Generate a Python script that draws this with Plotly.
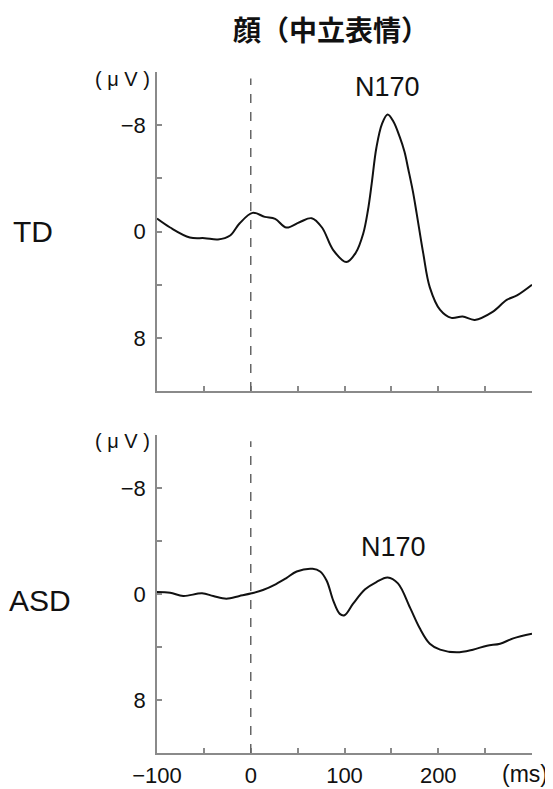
import plotly.graph_objects as go

# Browser body adds an 8px margin; lay out in reference pixel coordinates.
OFF = 8
W, H = 553 - OFF, 789 - OFF

title_text = "顔（中立表情）"
group_labels = ["TD", "ASD"]
peak_label = "N170"
x_tick_vals = [-100, -50, 0, 50, 100, 150, 200, 250, 300]
x_tick_text = ["−100", "", "0", "", "100", "", "200", "", ""]
y_tick_vals = [-12, -8, -4, 0, 4, 8]
y_tick_text = ["", "−8", "", "0", "", "8"]
y_unit = "( μ V )"
x_unit = "(ms)"

td_time = [-100, -86, -65, -49, -35, -22, -12, 2, 15, 26, 38, 52, 65, 76, 88, 102,
           112, 120, 125, 129, 134, 140, 146, 152, 159, 164, 168, 173, 177, 184,
           191, 202, 214, 226, 239, 258, 273, 284, 300]
td_uv = [-0.97, -0.3, 0.45, 0.5, 0.6, 0.3, -0.6, -1.4, -1.1, -0.95, -0.3, -0.7, -1.0,
         -0.3, 1.4, 2.3, 1.6, 0.15, -1.6, -3.6, -6.3, -8.1, -8.8, -8.3, -7.1, -6.0,
         -4.7, -3.0, -1.35, 1.65, 4.2, 5.9, 6.5, 6.4, 6.65, 6.05, 5.15, 4.8, 4.0]

asd_time = [-100, -86, -72, -52, -40, -26, -12, 1, 13, 27, 38, 49, 66, 74, 81, 88, 95,
            100, 109, 122, 134, 146, 157, 170, 180, 191, 202, 220, 237, 252, 266,
            280, 300]
asd_uv = [-0.15, -0.1, 0.15, -0.05, 0.15, 0.35, 0.15, -0.05, -0.3, -0.75, -1.2, -1.7,
          -1.9, -1.7, -1.0, 0.5, 1.5, 1.6, 0.75, -0.35, -0.9, -1.25, -0.8, 1.05, 2.55,
          3.75, 4.2, 4.4, 4.2, 3.9, 3.75, 3.35, 3.0]

AX = "#8a8a8a"
FONT = "Liberation Sans, Arial, sans-serif"

def px(x):
    return (x - OFF) / W

def py(y):
    return 1 - (y - OFF) / H

fig = go.Figure()
for t, v, xa, ya in [(td_time, td_uv, "x", "y"), (asd_time, asd_uv, "x2", "y2")]:
    fig.add_trace(go.Scatter(x=t, y=v, mode="lines", xaxis=xa, yaxis=ya,
                             line=dict(color="#111", width=2, shape="spline", smoothing=1.0),
                             showlegend=False))

xdom = [px(157), px(532)]
common_x = dict(range=[-100, 300], domain=xdom, showline=True, linecolor=AX, linewidth=1.5,
                ticks="inside", ticklen=5, tickcolor=AX, tickwidth=1.5, automargin=False,
                tickvals=x_tick_vals, showgrid=False, zeroline=False, fixedrange=True)
common_y = dict(range=[12, -12], showline=True, linecolor=AX, linewidth=1.5,
                ticks="inside", ticklen=5, tickcolor=AX, tickwidth=1.5, automargin=False,
                tickvals=y_tick_vals, ticktext=y_tick_text, showgrid=False, zeroline=False,
                tickfont=dict(family=FONT, size=22, color="#111"), ticklabelstandoff=5,
                fixedrange=True)

fig.update_layout(
    width=W, height=H, margin=dict(l=0, r=0, t=0, b=0, autoexpand=False),
    paper_bgcolor="white", plot_bgcolor="white",
    xaxis=dict(**common_x, anchor="y", ticktext=[""] * len(x_tick_vals)),
    yaxis=dict(**common_y, anchor="x", domain=[py(391), py(72)]),
    xaxis2=dict(**common_x, anchor="y2", ticktext=x_tick_text,
                tickfont=dict(family=FONT, size=22, color="#111"), ticklabelstandoff=2),
    yaxis2=dict(**common_y, anchor="x2", domain=[py(753), py(435)]),
)

for xr, yr in [("x", "y"), ("x2", "y2")]:
    fig.add_shape(type="line", xref=xr, yref=yr + " domain", x0=0, x1=0, y0=0, y1=0.98,
                  line=dict(color="#666", width=1.5, dash="dash"))

def ann(text, x, y, size, xanchor="center", bold=False, family=FONT):
    t = f"<b>{text}</b>" if bold else text
    fig.add_annotation(text=t, xref="paper", yref="paper", x=px(x), y=py(y),
                       xanchor=xanchor, yanchor="middle", showarrow=False,
                       font=dict(family=family, size=size, color="#111"))

ann(title_text, 331, 29, 28, bold=True, family="Noto Sans CJK JP, sans-serif")
ann(group_labels[0], 33, 231, 30)
ann(group_labels[1], 40, 600, 30)
ann(peak_label, 387, 87, 27)
ann(peak_label, 393, 547, 27)
ann(y_unit, 152, 79, 20, xanchor="right")
ann(y_unit, 152, 441, 20, xanchor="right")
ann(x_unit, 525, 774, 23)

fig.write_html("out.html")
